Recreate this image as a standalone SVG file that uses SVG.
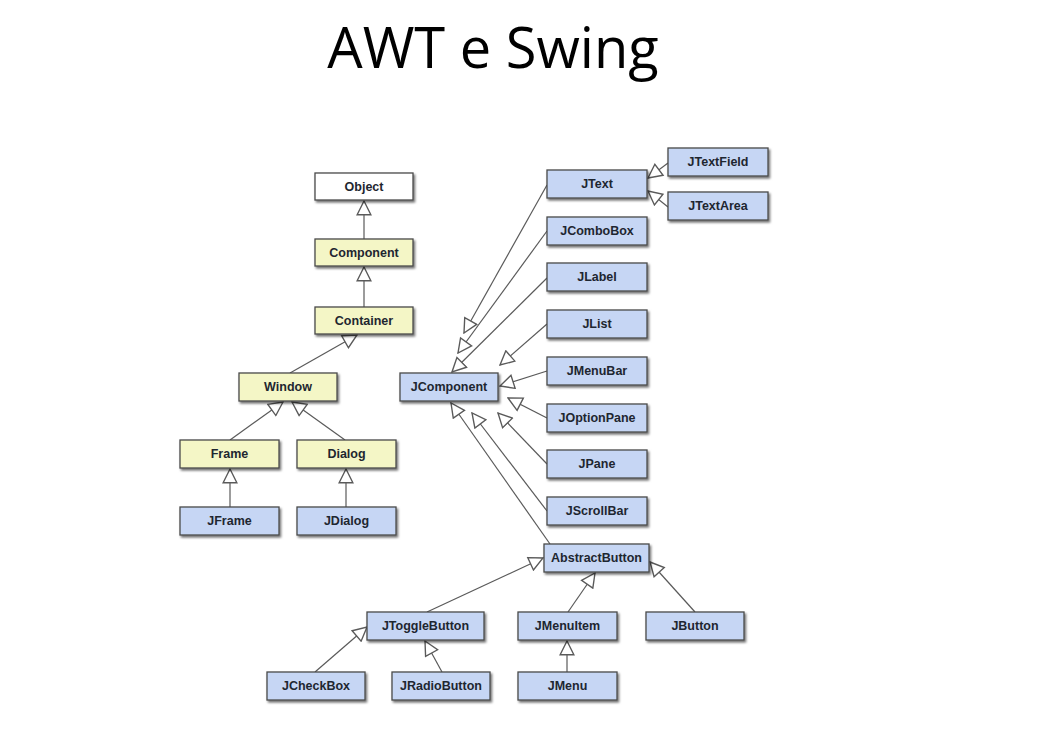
<svg xmlns="http://www.w3.org/2000/svg" width="1046" height="746" viewBox="0 0 1046 746">
  <style>
    .title { font-family: "Open Sans", "Liberation Sans", sans-serif; font-size: 56px; fill: #000; }
    .box { stroke: #4a4a4a; stroke-width: 1.3; filter: url(#shadow); }
    .white { fill: #ffffff; }
    .yellow { fill: #f4f6c6; }
    .blue { fill: #c6d6f4; }
    .label { font-family: "Liberation Sans", Arial, sans-serif; font-weight: bold; font-size: 12.5px; fill: #1e2630; text-anchor: middle; dominant-baseline: central; }
    .edge { stroke: #5a5a5a; stroke-width: 1.2; fill: none; marker-end: url(#inherit); }
  </style>
  <defs>
    <filter id="shadow" x="-20%" y="-30%" width="140%" height="170%">
      <feDropShadow dx="1.5" dy="2" stdDeviation="1.2" flood-color="#000" flood-opacity="0.55"/>
    </filter>
    <!-- hollow triangle: UML generalisation -->
    <marker id="inherit" markerUnits="userSpaceOnUse" markerWidth="16" markerHeight="16" viewBox="0 0 14 14" refX="13" refY="7" orient="auto">
      <path d="M1,1 L13,7 L1,13 Z" fill="#ffffff" stroke="#5a5a5a" stroke-width="1.2"/>
    </marker>
  </defs>

  <rect width="1046" height="746" fill="#ffffff"/>
  <text class="title" x="493" y="68" text-anchor="middle">AWT e Swing</text>

  <g id="connectors">
    <line class="edge" x1="364" y1="239" x2="364" y2="201"/>
    <line class="edge" x1="364" y1="307" x2="364" y2="267"/>
    <line class="edge" x1="290" y1="373" x2="357" y2="335"/>
    <line class="edge" x1="230" y1="440" x2="283" y2="402"/>
    <line class="edge" x1="345" y1="440" x2="292" y2="402"/>
    <line class="edge" x1="230" y1="507" x2="230" y2="469"/>
    <line class="edge" x1="346" y1="507" x2="346" y2="469"/>
    <line class="edge" x1="668" y1="163" x2="648" y2="178"/>
    <line class="edge" x1="668" y1="207" x2="648" y2="191"/>
    <line class="edge" x1="547" y1="185" x2="464" y2="333"/>
    <line class="edge" x1="547" y1="231" x2="458" y2="353"/>
    <line class="edge" x1="547" y1="278" x2="452" y2="372"/>
    <line class="edge" x1="547" y1="324" x2="500" y2="365"/>
    <line class="edge" x1="547" y1="371" x2="500" y2="386"/>
    <line class="edge" x1="547" y1="418" x2="508" y2="398"/>
    <line class="edge" x1="547" y1="464" x2="498" y2="413"/>
    <line class="edge" x1="547" y1="511" x2="472" y2="413"/>
    <line class="edge" x1="550" y1="544" x2="451" y2="403"/>
    <line class="edge" x1="427" y1="612" x2="543" y2="558"/>
    <line class="edge" x1="568" y1="612" x2="595" y2="573"/>
    <line class="edge" x1="695" y1="612" x2="650" y2="562"/>
    <line class="edge" x1="315" y1="672" x2="367" y2="627"/>
    <line class="edge" x1="442" y1="672" x2="425" y2="641"/>
    <line class="edge" x1="567" y1="672" x2="567" y2="641"/>
  </g>

  <g id="node-object"><rect class="box white" x="315" y="173" width="98" height="27"/><text class="label" x="364" y="186.5">Object</text></g>
  <g id="node-component"><rect class="box yellow" x="315" y="239" width="98" height="27"/><text class="label" x="364" y="252.5">Component</text></g>
  <g id="node-container"><rect class="box yellow" x="315" y="307" width="98" height="27"/><text class="label" x="364" y="320.5">Container</text></g>
  <g id="node-window"><rect class="box yellow" x="239" y="373" width="98" height="28"/><text class="label" x="288" y="387">Window</text></g>
  <g id="node-frame"><rect class="box yellow" x="180" y="440" width="99" height="28"/><text class="label" x="229.5" y="454">Frame</text></g>
  <g id="node-dialog"><rect class="box yellow" x="297" y="440" width="99" height="28"/><text class="label" x="346.5" y="454">Dialog</text></g>
  <g id="node-jframe"><rect class="box blue" x="180" y="507" width="99" height="28"/><text class="label" x="229.5" y="521">JFrame</text></g>
  <g id="node-jdialog"><rect class="box blue" x="297" y="507" width="99" height="28"/><text class="label" x="346.5" y="521">JDialog</text></g>
  <g id="node-jcomponent"><rect class="box blue" x="400" y="373" width="98" height="28"/><text class="label" x="449" y="387">JComponent</text></g>
  <g id="node-jtext"><rect class="box blue" x="547" y="170" width="100" height="28"/><text class="label" x="597" y="184">JText</text></g>
  <g id="node-jtextfield"><rect class="box blue" x="668" y="148" width="100" height="28"/><text class="label" x="718" y="162">JTextField</text></g>
  <g id="node-jtextarea"><rect class="box blue" x="668" y="192" width="100" height="28"/><text class="label" x="718" y="206">JTextArea</text></g>
  <g id="node-jcombobox"><rect class="box blue" x="547" y="217" width="100" height="28"/><text class="label" x="597" y="231">JComboBox</text></g>
  <g id="node-jlabel"><rect class="box blue" x="547" y="263" width="100" height="28"/><text class="label" x="597" y="277">JLabel</text></g>
  <g id="node-jlist"><rect class="box blue" x="547" y="310" width="100" height="28"/><text class="label" x="597" y="324">JList</text></g>
  <g id="node-jmenubar"><rect class="box blue" x="547" y="357" width="100" height="28"/><text class="label" x="597" y="371">JMenuBar</text></g>
  <g id="node-joptionpane"><rect class="box blue" x="547" y="404" width="100" height="28"/><text class="label" x="597" y="418">JOptionPane</text></g>
  <g id="node-jpane"><rect class="box blue" x="547" y="450" width="100" height="28"/><text class="label" x="597" y="464">JPane</text></g>
  <g id="node-jscrollbar"><rect class="box blue" x="547" y="497" width="100" height="28"/><text class="label" x="597" y="511">JScrollBar</text></g>
  <g id="node-abstractbutton"><rect class="box blue" x="544" y="544" width="105" height="28"/><text class="label" x="596.5" y="558">AbstractButton</text></g>
  <g id="node-jtogglebutton"><rect class="box blue" x="367" y="612" width="117" height="28"/><text class="label" x="425.5" y="626">JToggleButton</text></g>
  <g id="node-jmenuitem"><rect class="box blue" x="518" y="612" width="99" height="28"/><text class="label" x="567.5" y="626">JMenuItem</text></g>
  <g id="node-jbutton"><rect class="box blue" x="646" y="612" width="98" height="28"/><text class="label" x="695" y="626">JButton</text></g>
  <g id="node-jcheckbox"><rect class="box blue" x="267" y="672" width="98" height="28"/><text class="label" x="316" y="686">JCheckBox</text></g>
  <g id="node-jradiobutton"><rect class="box blue" x="392" y="672" width="98" height="28"/><text class="label" x="441" y="686">JRadioButton</text></g>
  <g id="node-jmenu"><rect class="box blue" x="518" y="672" width="99" height="28"/><text class="label" x="567.5" y="686">JMenu</text></g>
</svg>
